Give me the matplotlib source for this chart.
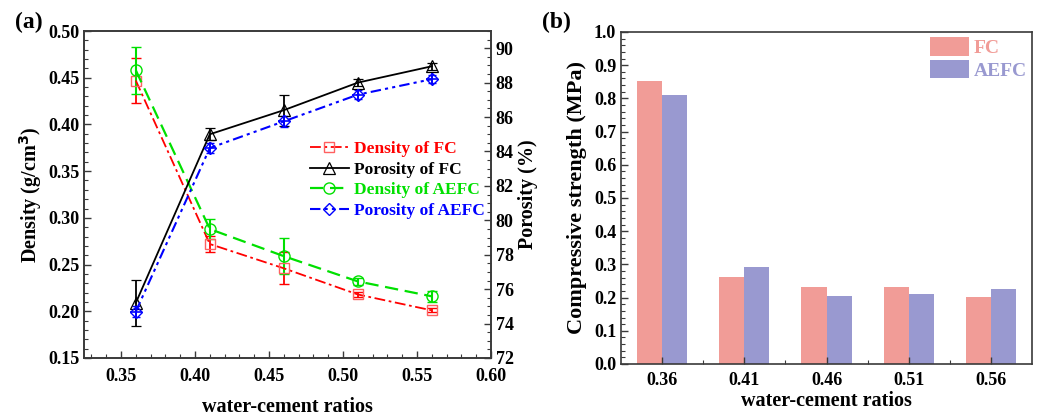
import numpy as np
import matplotlib.pyplot as plt
from matplotlib.ticker import MultipleLocator, FixedLocator

plt.rcParams['font.family'] = 'Liberation Serif'
plt.rcParams['font.weight'] = 'bold'
plt.rcParams['axes.labelweight'] = 'bold'

# ---- panel (a) data ----
wc = [0.36, 0.41, 0.46, 0.51, 0.56]

dens_fc = [0.447, 0.272, 0.246, 0.218, 0.201]
dens_fc_err = [0.024, 0.009, 0.017, 0.003, 0.002]
dens_aefc = [0.458, 0.288, 0.259, 0.232, 0.216]
dens_aefc_err = [0.025, 0.011, 0.019, 0.004, 0.006]

por_fc = [75.2, 85.0, 86.4, 88.0, 88.95]
por_fc_err = [1.36, 0.35, 0.9, 0.2, 0.2]
por_aefc = [74.7, 84.2, 85.75, 87.3, 88.2]
por_aefc_err = [0.3, 0.3, 0.3, 0.25, 0.25]

# ---- panel (b) data ----
wc_labels = ['0.36', '0.41', '0.46', '0.51', '0.56']
cs_fc = [0.853, 0.261, 0.231, 0.231, 0.201]
cs_aefc = [0.810, 0.291, 0.204, 0.212, 0.226]

spine_col = '#3a3a3a'

fig = plt.figure(figsize=(10.4, 4.16), dpi=100)
ax1 = fig.add_axes([84 / 1040, 1 - 358 / 416, 407 / 1040, 327 / 416])
ax2 = ax1.twinx()
axb = fig.add_axes([621 / 1040, 1 - 364 / 416, 411 / 1040, 332 / 416])

# -- left axis: density --
h1 = ax1.errorbar(wc, dens_fc, yerr=dens_fc_err, color='red', ls=(0, (6, 2, 1.5, 2)),
                  lw=1.3, marker='s', ms=7, mfc='none', mec='#ff6060', mew=1.0,
                  capsize=3.5, elinewidth=1.3, capthick=1.3, label='Density of FC', zorder=3)
h3 = ax1.errorbar(wc, dens_aefc, yerr=dens_aefc_err, color='#00e000', ls=(0, (6, 3)),
                  lw=1.6, marker='o', ms=8, mfc='none', mec='#00e000', mew=1.0,
                  capsize=3.5, elinewidth=1.5, capthick=1.5, label='Density of AEFC', zorder=3)

# -- right axis: porosity --
h2 = ax2.errorbar(wc, por_fc, yerr=por_fc_err, color='black', ls='-', lw=1.3,
                  marker='^', ms=8.5, mfc='none', mec='black', mew=0.9,
                  capsize=3.5, elinewidth=1.3, capthick=1.3, label='Porosity of FC', zorder=3)
h4 = ax2.errorbar(wc, por_aefc, yerr=por_aefc_err, color='blue', ls=(0, (5, 2, 1.5, 2, 1.5, 2)),
                  lw=1.5, marker='D', ms=6.5, mfc='none', mec='blue', mew=1.0,
                  capsize=3, elinewidth=1.3, capthick=1.3, label='Porosity of AEFC', zorder=3)
ax2.plot(wc, por_aefc, ls='none', marker='+', ms=9, mec='blue', mew=1.2, zorder=4)

ax1.set_xlim(0.325, 0.60)
ax1.set_ylim(0.15, 0.50)
ax2.set_ylim(72, 91)
ax1.xaxis.set_major_locator(MultipleLocator(0.05))
ax1.xaxis.set_minor_locator(MultipleLocator(0.01))
ax1.yaxis.set_major_locator(MultipleLocator(0.05))
ax1.yaxis.set_minor_locator(MultipleLocator(0.01))
ax2.yaxis.set_major_locator(MultipleLocator(2))
ax2.yaxis.set_minor_locator(MultipleLocator(0.5))
ax1.xaxis.set_major_formatter(plt.FormatStrFormatter('%.2f'))
ax1.yaxis.set_major_formatter(plt.FormatStrFormatter('%.2f'))

for ax in (ax1, ax2):
    ax.tick_params(which='both', direction='in', labelsize=13, color=spine_col)
    ax.tick_params(which='major', length=5, width=1)
    ax.tick_params(which='minor', length=3, width=0.8)
    for s in ax.spines.values():
        s.set_color(spine_col)
        s.set_linewidth(1.2)
ax1.tick_params(axis='x', pad=7)

ax1.set_xlabel('water-cement ratios', fontsize=14.5, labelpad=9)
ax1.set_ylabel('Density (g/cm$^\\mathbf{3}$)', fontsize=14.5, labelpad=3)
ax2.set_ylabel('Porosity (%)', fontsize=14.5, labelpad=3)

handles = [h1[0], h2[0], h3[0], h4[0]]
labels = ['Density of FC', 'Porosity of FC', 'Density of AEFC', 'Porosity of AEFC']
leg = ax1.legend(handles, labels, loc='upper right',
                 bbox_to_anchor=(1.01, 0.695), frameon=False, fontsize=12.5,
                 handlelength=2.2, handletextpad=0.3, labelspacing=0.25, borderaxespad=0.2)
for txt, col in zip(leg.get_texts(), ['red', 'black', '#00e000', 'blue']):
    txt.set_color(col)

fig.text(15 / 1040, 1 - 22 / 416, '(a)', fontsize=17, fontweight='bold', va='center')

# -- panel (b): bars --
x = np.arange(len(wc_labels))
bw = 0.305
axb.bar(x - bw / 2, cs_fc, width=bw, color='#f19c97', label='FC')
axb.bar(x + bw / 2, cs_aefc, width=bw, color='#9999d0', label='AEFC')
axb.set_xlim(-0.5, 4.5)
axb.set_ylim(0, 1.0)
axb.set_xticks(x)
axb.set_xticklabels(wc_labels)
axb.xaxis.set_minor_locator(FixedLocator(x[:-1] + 0.5))
axb.yaxis.set_major_locator(MultipleLocator(0.1))
axb.yaxis.set_minor_locator(MultipleLocator(0.02))
axb.yaxis.set_major_formatter(plt.FormatStrFormatter('%.1f'))
axb.tick_params(which='both', direction='in', labelsize=13, color=spine_col)
axb.tick_params(which='major', length=5, width=1)
axb.tick_params(which='minor', length=3, width=0.8)
axb.tick_params(axis='x', pad=6)
for s in axb.spines.values():
    s.set_color(spine_col)
    s.set_linewidth(1.2)
axb.set_xlabel('water-cement ratios', fontsize=14.5, labelpad=1)
axb.set_ylabel('Compressive strength (MPa)', fontsize=16, labelpad=5)

legb = axb.legend(loc='upper right', frameon=False, fontsize=14, handlelength=2.0,
                  handleheight=1.1, handletextpad=0.25, labelspacing=0.15,
                  borderaxespad=0.05, borderpad=0.2)
for txt, col in zip(legb.get_texts(), ['#f19c97', '#9999d0']):
    txt.set_color(col)

fig.text(542 / 1040, 1 - 22 / 416, '(b)', fontsize=17, fontweight='bold', va='center')

fig.savefig('out.png', dpi=100)
